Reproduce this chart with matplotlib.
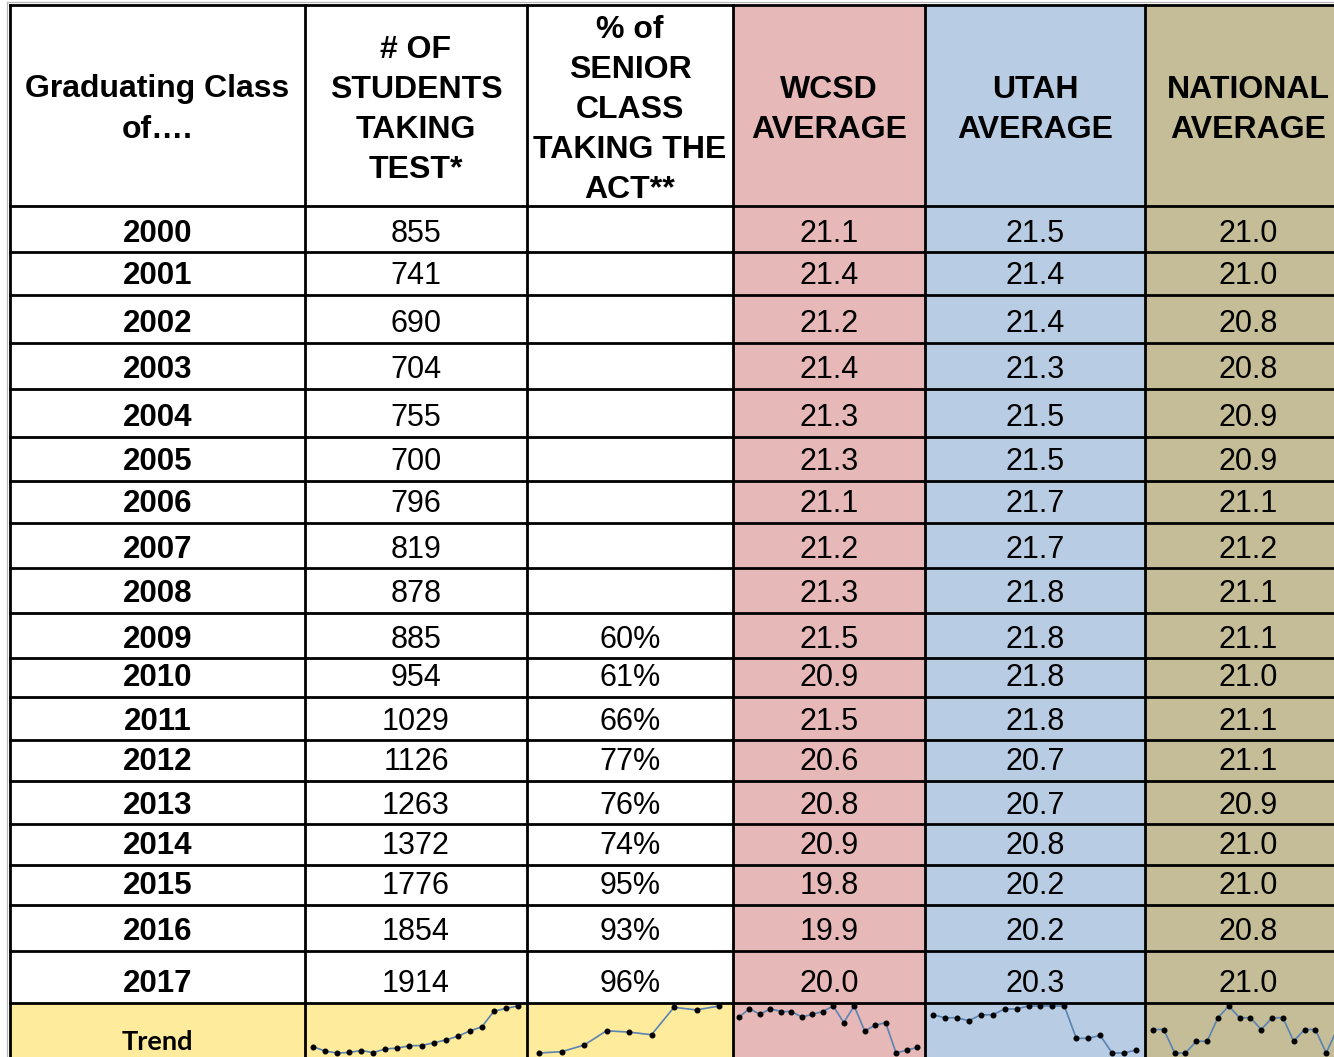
import matplotlib
matplotlib.use("Agg")
import matplotlib.pyplot as plt
from matplotlib.patches import Rectangle

# ---------------- data ----------------
years = ["2000", "2001", "2002", "2003", "2004", "2005", "2006", "2007", "2008",
         "2009", "2010", "2011", "2012", "2013", "2014", "2015", "2016", "2017"]
students = [855, 741, 690, 704, 755, 700, 796, 819, 878,
            885, 954, 1029, 1126, 1263, 1372, 1776, 1854, 1914]
pct_senior = [None, None, None, None, None, None, None, None, None,
              60, 61, 66, 77, 76, 74, 95, 93, 96]
wcsd = [21.1, 21.4, 21.2, 21.4, 21.3, 21.3, 21.1, 21.2, 21.3,
        21.5, 20.9, 21.5, 20.6, 20.8, 20.9, 19.8, 19.9, 20.0]
utah = [21.5, 21.4, 21.4, 21.3, 21.5, 21.5, 21.7, 21.7, 21.8,
        21.8, 21.8, 21.8, 20.7, 20.7, 20.8, 20.2, 20.2, 20.3]
national = [21.0, 21.0, 20.8, 20.8, 20.9, 20.9, 21.1, 21.2, 21.1,
            21.1, 21.0, 21.1, 21.1, 20.9, 21.0, 21.0, 20.8, 21.0]
headers = [["Graduating Class", "of…."],
           ["# OF", "STUDENTS", "TAKING", "TEST*"],
           ["% of", "SENIOR", "CLASS", "TAKING THE", "ACT**"],
           ["WCSD", "AVERAGE"],
           ["UTAH", "AVERAGE"],
           ["NATIONAL", "AVERAGE"]]
trend_label = "Trend"

# ---------------- layout ----------------
W, H = 1334, 1057
fig = plt.figure(figsize=(W / 100, H / 100), dpi=100)
ax = fig.add_axes([0, 0, 1, 1])
ax.set_xlim(0, W)
ax.set_ylim(H, 0)
ax.axis("off")

col_x = [10, 305, 527, 733, 925, 1145, 1351]
header_top = 5
row_y = [206, 252, 295, 342.5, 389, 437, 481, 523, 568, 613, 658, 697, 740,
         780.5, 824, 865, 905, 951, 1003]
trend_bottom = 1064

PINK, BLUE, TAN, YEL = "#E6B8B7", "#B8CCE4", "#C4BD97", "#FFEB9C"
col_fill = ["white", "white", "white", PINK, BLUE, TAN]
trend_fill = [YEL, YEL, YEL, PINK, BLUE, TAN]

for i in range(6):
    x0, x1 = col_x[i], col_x[i + 1]
    ax.add_patch(Rectangle((x0, header_top), x1 - x0, row_y[-1] - header_top,
                           facecolor=col_fill[i], edgecolor="none", zorder=0))
    ax.add_patch(Rectangle((x0, row_y[-1]), x1 - x0, trend_bottom - row_y[-1],
                           facecolor=trend_fill[i], edgecolor="none", zorder=0))

# faint outer shadow lines
ax.plot([7, 7], [2, H], color="#b5b5b5", lw=0.9, zorder=1)
ax.plot([7, W], [2, 2], color="#b5b5b5", lw=0.9, zorder=1)

LW = 2.0
for y in [header_top] + row_y:
    ax.plot([col_x[0], col_x[-1]], [y, y], color="black", lw=LW,
            solid_capstyle="projecting", zorder=3)
for x in col_x:
    ax.plot([x, x], [header_top, trend_bottom], color="black", lw=LW,
            solid_capstyle="projecting", zorder=3)

FONT = "Liberation Sans"
# headers
centers = [(col_x[i] + col_x[i + 1]) / 2 for i in range(6)]
hdr_mid, hdr_step = 109.5, 40
for i, lines in enumerate(headers):
    n = len(lines)
    for k, t in enumerate(lines):
        y = hdr_mid + (k - (n - 1) / 2) * hdr_step
        ax.text(centers[i], y, t, ha="center", va="center", fontsize=23,
                fontweight="bold", family=FONT, zorder=4)

# data rows
for r in range(len(years)):
    yb = row_y[r + 1] - 10.5
    cells = [years[r], str(students[r]),
             "" if pct_senior[r] is None else f"{pct_senior[r]}%",
             f"{wcsd[r]:.1f}", f"{utah[r]:.1f}", f"{national[r]:.1f}"]
    for i, t in enumerate(cells):
        if not t:
            continue
        ax.text(centers[i], yb, t, ha="center", va="baseline",
                fontsize=22.5 if i == 0 else 22,
                fontweight="bold" if i == 0 else "normal",
                family=FONT, zorder=4)

ax.text(centers[0], 1050, trend_label, ha="center", va="baseline",
        fontsize=19.5, fontweight="bold", family=["Lato", "DejaVu Sans"], zorder=4)

# sparklines
spark_top, spark_bot = 1006, 1053
spark_x = [(313, 518), (539, 719), (739, 917), (933, 1136), (1153, 1337)]
series = [students, [v for v in pct_senior if v is not None], wcsd, utah, national]
for (x0, x1), vals in zip(spark_x, series):
    sax = fig.add_axes([x0 / W, 1 - spark_bot / H, (x1 - x0) / W,
                        (spark_bot - spark_top) / H])
    sax.set_xlim(0, len(vals) - 1)
    sax.set_ylim(min(vals), max(vals))
    sax.axis("off")
    sax.patch.set_alpha(0)
    sax.plot(range(len(vals)), vals, color="#5A83B3", lw=1.2,
             marker="o", ms=3.3, mfc="black", mec="black", clip_on=False)

fig.savefig("out.png", dpi=100)
